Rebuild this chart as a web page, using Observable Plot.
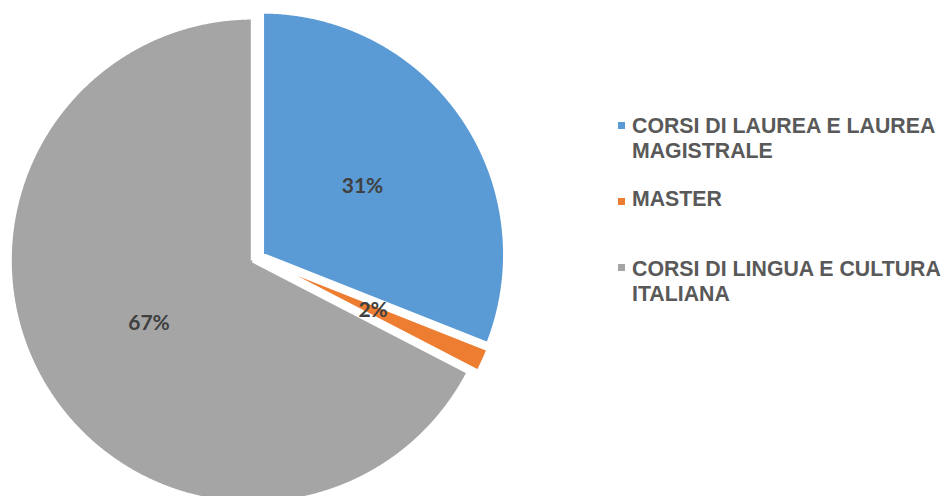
<!DOCTYPE html>
<html>
<head>
<meta charset="utf-8">
<script src="https://cdn.jsdelivr.net/npm/d3@7"></script>
<script src="https://cdn.jsdelivr.net/npm/@observablehq/plot@0.6"></script>
<style>
html, body { margin: 0; padding: 0; background: #fff; }
#wrap { position: relative; width: 945px; height: 496px; overflow: hidden; }
#wrap svg { position: absolute; left: 0; top: 0; }
.item { position: absolute; left: 632px; font-family: "Liberation Sans", Arial, sans-serif; font-weight: bold; font-size: 21.3px; line-height: 24.5px; color: #595959; white-space: nowrap; }
.sw { position: absolute; left: 618px; width: 7px; height: 7px; }
</style>
</head>
<body>
<div id="wrap"></div>
<script>
// ---- data ----
const categories = ["CORSI DI LAUREA E LAUREA MAGISTRALE", "MASTER", "CORSI DI LINGUA E CULTURA ITALIANA"];
const values = [31.0, 1.6, 67.4];
const colors = ["#5B9BD5", "#ED7D31", "#A5A5A5"];
const legendLines = [["CORSI DI LAUREA E LAUREA", "MAGISTRALE"], ["MASTER"], ["CORSI DI LINGUA E CULTURA", "ITALIANA"]];

// ---- layout ----
const W = 945, H = 496;
const cx = 257, cy = 257.2, R = 243;      // pie centre and radius in pixels
const explode = 5.5 / R;                  // slice explosion (unit radius)
const labelFrac = 0.5;
const legendTops = [114.3, 187.3, 257.3];
const swatchTops = [122, 198, 264];

const rows = categories.map((name, i) => ({name, value: values[i]}));
const arcs = d3.pie().sort(null).value(d => d.value).startAngle(0).endAngle(2 * Math.PI)(rows);

const pts = [];
const labels = [];
arcs.forEach(a => {
  const m = (a.startAngle + a.endAngle) / 2;
  const ox = explode * Math.sin(m), oy = explode * Math.cos(m);
  const name = a.data.name;
  pts.push({name, x: ox, y: oy});
  const n = Math.max(2, Math.ceil((a.endAngle - a.startAngle) / (Math.PI / 720)));
  for (let k = 0; k <= n; k++) {
    const t = a.startAngle + (a.endAngle - a.startAngle) * k / n;
    pts.push({name, x: ox + Math.sin(t), y: oy + Math.cos(t)});
  }
  pts.push({name, x: ox, y: oy});
  labels.push({
    x: ox + labelFrac * Math.sin(m),
    y: oy + labelFrac * Math.cos(m),
    text: d3.format(".0%")(a.data.value / 100)
  });
});

const chart = Plot.plot({
  width: W,
  height: H,
  margin: 0,
  x: {domain: [-cx / R, (W - cx) / R], axis: null},
  y: {domain: [(cy - H) / R, cy / R], axis: null},
  color: {domain: categories, range: colors},
  marks: [
    Plot.line(pts, {x: "x", y: "y", z: "name", fill: "name", stroke: "white", strokeWidth: 4,
      strokeLinejoin: "miter", strokeMiterlimit: 4, strokeLinecap: "butt", curve: "linear"}),
    Plot.text(labels, {x: "x", y: "y", text: "text", fontFamily: "Lato, 'Open Sans', sans-serif",
      fontWeight: "bold", fontSize: 21, fill: "#404040"})
  ]
});

const wrap = document.getElementById("wrap");
wrap.appendChild(chart);

legendLines.forEach((lines, i) => {
  const sw = document.createElement("div");
  sw.className = "sw";
  sw.style.top = swatchTops[i] + "px";
  sw.style.background = colors[i];
  wrap.appendChild(sw);
  const it = document.createElement("div");
  it.className = "item";
  it.style.top = legendTops[i] + "px";
  it.innerHTML = lines.join("<br>");
  wrap.appendChild(it);
});
</script>
</body>
</html>
